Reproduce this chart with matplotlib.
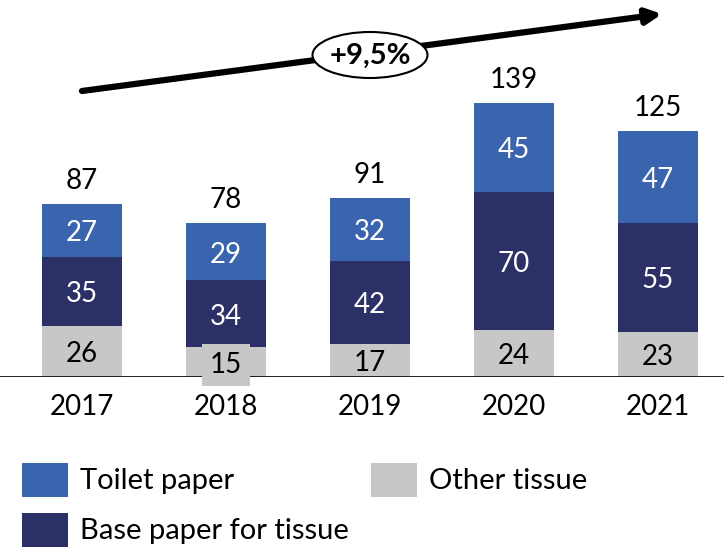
import numpy as np
import matplotlib.pyplot as plt
from matplotlib.patches import Ellipse, Rectangle

years = ["2017", "2018", "2019", "2020", "2021"]
other_tissue = np.array([26, 15, 17, 24, 23])
base_paper = np.array([35, 34, 42, 70, 55])
toilet_paper = np.array([27, 29, 32, 45, 47])
totals = [87, 78, 91, 139, 125]
growth_label = "+9,5%"

C_TOILET = "#3A64AE"
C_BASE = "#2B3067"
C_OTHER = "#C6C7C6"

plt.rcParams["font.family"] = ["Lato", "DejaVu Sans"]

W, H = 724, 547
fig = plt.figure(figsize=(W / 100, H / 100), dpi=100)
ax = fig.add_axes([0, 170 / H, 1, 377 / H])

x = np.arange(len(years))
bw = 0.556
ax.bar(x, other_tissue, bw, color=C_OTHER, zorder=2)
ax.bar(x, base_paper, bw, bottom=other_tissue, color=C_BASE, zorder=2)
ax.bar(x, toilet_paper, bw, bottom=other_tissue + base_paper, color=C_TOILET, zorder=2)

fs = 20


def seg_label(xi, yi, val, color, box=None):
    # nudge down a little so the digits sit visually centred in the segment
    ax.annotate(str(val), (xi, yi), xytext=(0, -2), textcoords="offset points",
                ha="center", va="center", fontsize=fs, color=color, bbox=box, zorder=5)


for i in x:
    box = None
    if other_tissue[i] < 16:
        box = dict(boxstyle="square,pad=0.3", fc=C_OTHER, ec="none")
    seg_label(i, other_tissue[i] / 2, other_tissue[i], "black", box)
    seg_label(i, other_tissue[i] + base_paper[i] / 2, base_paper[i], "white")
    top = other_tissue[i] + base_paper[i]
    seg_label(i, top + toilet_paper[i] / 2, toilet_paper[i], "white")
    ax.text(i, top + toilet_paper[i] + 5, str(totals[i]), ha="center", va="bottom",
            fontsize=fs, color="black", zorder=5)

ax.set_xlim(-82 / 144, (W - 82) / 144)
ax.set_ylim(0, 377 / 1.97)
ax.axhline(0, color="black", lw=1.2, zorder=3)
ax.set_xticks(x)
ax.set_xticklabels(years, fontsize=fs)
ax.tick_params(axis="x", length=0, pad=12)
ax.set_yticks([])
for s in ax.spines.values():
    s.set_visible(False)

# growth arrow with the CAGR bubble, placed in figure pixels
def fx(px):
    return px / W


def fy(py):
    return 1 - py / H


ax.annotate("", xy=(fx(662), fy(14)), xytext=(fx(82), fy(91)),
            xycoords="figure fraction", textcoords="figure fraction",
            arrowprops=dict(arrowstyle="-|>,head_length=0.9,head_width=0.45",
                            lw=4.5, color="black", shrinkA=0, shrinkB=0))
fig.add_artist(Ellipse((fx(370), fy(55)), 115 / W, 46 / H, transform=fig.transFigure,
                       fc="white", ec="black", lw=1.5, zorder=10))
fig.text(fx(370), fy(56), growth_label, ha="center", va="center", fontsize=21,
         fontweight="bold", zorder=11)

# legend
legend_items = [("Toilet paper", C_TOILET, 22, 463),
                ("Other tissue", C_OTHER, 371, 463),
                ("Base paper for tissue", C_BASE, 22, 513)]
for label, color, px, py in legend_items:
    fig.add_artist(Rectangle((fx(px), fy(py + 34)), 46 / W, 34 / H,
                             transform=fig.transFigure, fc=color, ec="none"))
    fig.text(fx(px + 58), fy(py + 18), label, ha="left", va="center", fontsize=21)

fig.savefig("out.png", dpi=100)
